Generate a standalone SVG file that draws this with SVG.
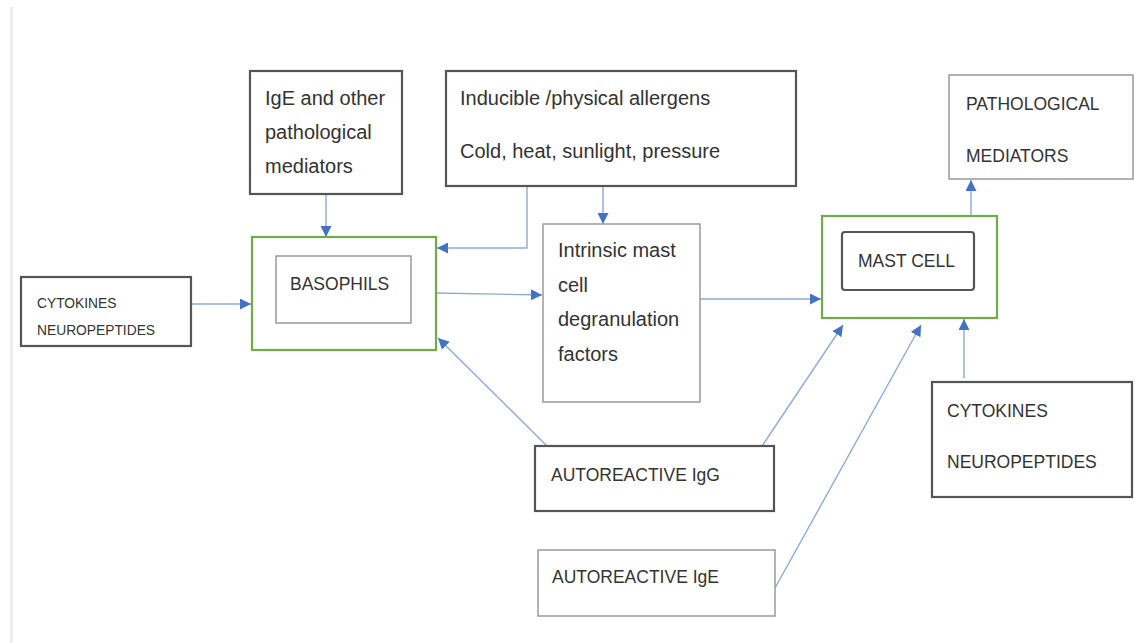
<svg xmlns="http://www.w3.org/2000/svg" width="1135" height="643" viewBox="0 0 1135 643">
<style>
.dark{fill:#fff;stroke:#555;stroke-width:2.2}
.light{fill:#fff;stroke:#9a9a9a;stroke-width:1.5}
.green{fill:#fff;stroke:#70ad47;stroke-width:2.2}
.t{font-family:"Liberation Sans",Arial,sans-serif;fill:#333;font-size:20px}
.u{font-family:"Liberation Sans",Arial,sans-serif;fill:#333;font-size:17.5px}
.s{font-family:"Liberation Sans",Arial,sans-serif;fill:#333;font-size:13.8px}
.c{fill:none;stroke:#8eaadb;stroke-width:1.4}
</style>
<defs>
<marker id="ah" viewBox="0 0 10 10" refX="10" refY="5" markerWidth="11" markerHeight="11" markerUnits="userSpaceOnUse" orient="auto">
<path d="M0,0 L10,5 L0,10 Z" fill="#4472c4"/>
</marker>
</defs>
<rect width="1135" height="643" fill="#fff"/>
<line x1="11.5" y1="7" x2="11.5" y2="643" stroke="#e6e6e6" stroke-width="2"/>

<g id="connectors">
<path class="c" d="M326,194 V237" marker-end="url(#ah)"/>
<path class="c" d="M527,186 V248 H437" marker-end="url(#ah)"/>
<path class="c" d="M603,186 V224" marker-end="url(#ah)"/>
<path class="c" d="M191,304 H251" marker-end="url(#ah)"/>
<path class="c" d="M436,293 L542,295" marker-end="url(#ah)"/>
<path class="c" d="M700,299 H821" marker-end="url(#ah)"/>
<path class="c" d="M971,216 V180" marker-end="url(#ah)"/>
<path class="c" d="M547,446 L438,338" marker-end="url(#ah)"/>
<path class="c" d="M762,446 L843,325" marker-end="url(#ah)"/>
<path class="c" d="M775,588 L921,325" marker-end="url(#ah)"/>
<path class="c" d="M964,378 V319" marker-end="url(#ah)"/>
</g>

<g id="ige-mediators">
<rect class="dark" x="250" y="71" width="152" height="123"/>
<text class="t" x="265" y="105">IgE and other</text>
<text class="t" x="265" y="139">pathological</text>
<text class="t" x="265" y="173">mediators</text>
</g>

<g id="inducible">
<rect class="dark" x="446" y="71" width="350" height="115"/>
<text class="t" x="460" y="105">Inducible /physical allergens</text>
<text class="t" x="460" y="158">Cold, heat, sunlight, pressure</text>
</g>

<g id="pathological">
<rect class="light" x="949" y="75" width="184" height="104"/>
<text class="u" x="966" y="110">PATHOLOGICAL</text>
<text class="u" x="966" y="162">MEDIATORS</text>
</g>

<g id="cytokines-left">
<rect class="dark" x="21" y="277" width="170" height="69"/>
<text class="s" x="37" y="308">CYTOKINES</text>
<text class="s" x="37" y="335">NEUROPEPTIDES</text>
</g>

<g id="basophils">
<rect class="green" x="252" y="237" width="184" height="113"/>
<rect class="light" x="276" y="256" width="135" height="67"/>
<text class="u" x="290" y="290">BASOPHILS</text>
</g>

<g id="intrinsic">
<rect class="light" x="543" y="224" width="157" height="178"/>
<text class="t" x="558" y="257">Intrinsic mast</text>
<text class="t" x="558" y="292">cell</text>
<text class="t" x="558" y="326">degranulation</text>
<text class="t" x="558" y="361">factors</text>
</g>

<g id="mast-cell">
<rect class="green" x="822" y="216" width="175" height="102"/>
<rect class="dark" x="842" y="232" width="132" height="58" rx="3"/>
<text class="u" x="858" y="267">MAST CELL</text>
</g>

<g id="cytokines-right">
<rect class="dark" x="932" y="382" width="200" height="115"/>
<text class="u" x="947" y="417">CYTOKINES</text>
<text class="u" x="947" y="468">NEUROPEPTIDES</text>
</g>

<g id="autoreactive-igg">
<rect class="dark" x="535" y="446" width="239" height="65"/>
<text class="u" x="551" y="481">AUTOREACTIVE IgG</text>
</g>

<g id="autoreactive-ige">
<rect class="light" x="538" y="550" width="237" height="66"/>
<text class="u" x="552" y="583">AUTOREACTIVE IgE</text>
</g>
</svg>
